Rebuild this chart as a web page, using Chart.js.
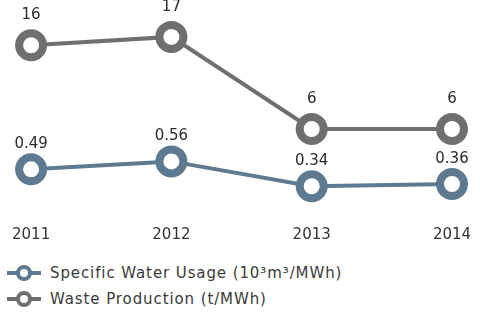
<!DOCTYPE html>
<html>
<head>
<meta charset="utf-8">
<script src="https://cdn.jsdelivr.net/npm/chart.js@4/dist/chart.umd.min.js"></script>
<style>
  html, body { margin: 0; padding: 0; background: #fff; }
  body { width: 480px; height: 312px; position: relative; overflow: hidden; font-family: "DejaVu Sans", sans-serif; }
  #chart-box { position: absolute; left: 0; top: 0; width: 480px; height: 256px; }
  #legend { position: absolute; left: 7px; top: 260px; }
  .leg-item { height: 26px; display: flex; align-items: center; font-size: 15px; color: #3a3a3a; letter-spacing: 0.9px; }
  .leg-icon { position: relative; width: 34px; height: 18px; margin-right: 9px; }
  .leg-icon .bar { position: absolute; left: 0; right: 0; top: 7px; height: 4px; }
  .leg-icon .dot { position: absolute; left: 9px; top: 1px; width: 8px; height: 8px; border-radius: 50%; border: 4px solid; background: #fff; }
</style>
</head>
<body>
<div id="chart-box"><canvas id="chart"></canvas></div>
<div id="legend"></div>
<script>
  // chart data
  const years = ['2011', '2012', '2013', '2014'];
  const waterUsage = [0.49, 0.56, 0.34, 0.36];
  const wasteProduction = [16, 17, 6, 6];
  const seriesNames = ['Specific Water Usage (10\u00b3m\u00b3/MWh)', 'Waste Production (t/MWh)'];

  const BLUE = '#5d7a91';
  const GREY = '#6e6f71';

  // draws the value above every point
  const valueLabels = {
    id: 'valueLabels',
    afterDatasetsDraw(chart) {
      const ctx = chart.ctx;
      ctx.save();
      ctx.font = '15px "DejaVu Sans", sans-serif';
      ctx.fillStyle = '#2b2b2b';
      ctx.textAlign = 'center';
      ctx.textBaseline = 'middle';
      chart.data.datasets.forEach((ds, i) => {
        const meta = chart.getDatasetMeta(i);
        meta.data.forEach((pt, j) => {
          ctx.fillText(String(ds.data[j]), pt.x, pt.y - ds.labelOffset);
        });
      });
      ctx.restore();
    }
  };

  const ctx = document.getElementById('chart').getContext('2d');
  new Chart(ctx, {
    type: 'line',
    data: {
      labels: years,
      datasets: [
        {
          label: seriesNames[0],
          data: waterUsage,
          yAxisID: 'yWater',
          borderColor: BLUE,
          backgroundColor: '#fff',
          borderWidth: 4,
          pointRadius: 12,
          pointBorderWidth: 8,
          pointBackgroundColor: '#fff',
          pointBorderColor: BLUE,
          tension: 0,
          labelOffset: 25,
          clip: false
        },
        {
          label: seriesNames[1],
          data: wasteProduction,
          yAxisID: 'yWaste',
          borderColor: GREY,
          backgroundColor: '#fff',
          borderWidth: 4,
          pointRadius: 12,
          pointBorderWidth: 8,
          pointBackgroundColor: '#fff',
          pointBorderColor: GREY,
          tension: 0,
          labelOffset: 30,
          clip: false
        }
      ]
    },
    options: {
      responsive: true,
      maintainAspectRatio: false,
      animation: false,
      layout: { autoPadding: false, padding: { left: 12, right: 7, top: 0, bottom: 0 } },
      plugins: { legend: { display: false }, tooltip: { enabled: false } },
      scales: {
        x: {
          offset: false,
          grid: { display: false, drawTicks: false },
          border: { display: false },
          ticks: { color: '#333', font: { family: 'DejaVu Sans', size: 15 }, padding: 12, maxRotation: 0 },
          // last year sits a little closer to the right edge
          afterFit: (scale) => { scale.paddingRight = 28; }
        },
        yWaste: { display: false, min: -4.16, max: 21.41 },
        yWater: { display: false, min: 0.094, max: 1.99 }
      }
    },
    plugins: [valueLabels]
  });

  // html legend
  const legend = document.getElementById('legend');
  [[seriesNames[0], BLUE], [seriesNames[1], GREY]].forEach(([name, color]) => {
    const item = document.createElement('div');
    item.className = 'leg-item';
    item.innerHTML = `<span class="leg-icon"><span class="bar" style="background:${color}"></span>` +
      `<span class="dot" style="border-color:${color}"></span></span><span>${name}</span>`;
    legend.appendChild(item);
  });
</script>
</body>
</html>
